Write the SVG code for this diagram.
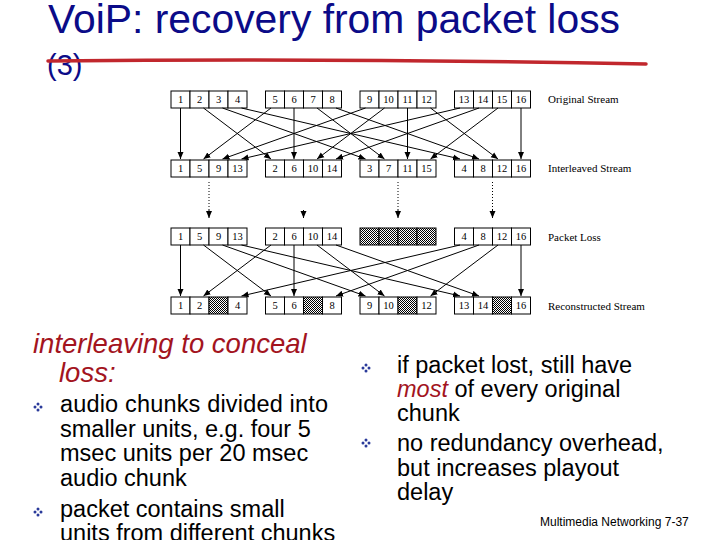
<svg xmlns="http://www.w3.org/2000/svg" width="720" height="540" viewBox="0 0 720 540">
<style>
.cell{fill:#fff;stroke:#000;stroke-width:1}
.lost{fill:url(#chk);stroke:#000;stroke-width:1}
.num{font-family:"Liberation Serif","Times New Roman",serif;font-size:10.5px;text-anchor:middle;fill:#000}
.lbl{font-family:"Liberation Serif","Times New Roman",serif;font-size:11px;fill:#000}
.ln{stroke:#000;stroke-width:1;fill:none;marker-end:url(#ah)}
.dot{stroke:#000;stroke-width:1;fill:none;stroke-dasharray:1 2}
.body{font-family:"Liberation Sans",Arial,sans-serif;font-size:23.5px;fill:#000}
.red{fill:#a3141e;font-style:italic}
</style>
<defs>
<pattern id="chk" width="2" height="2" patternUnits="userSpaceOnUse">
<rect width="2" height="2" fill="#fff"/>
<rect x="0" y="0" width="1" height="1" fill="#000"/>
<rect x="1" y="1" width="1" height="1" fill="#000"/>
</pattern>
<marker id="ah" markerUnits="userSpaceOnUse" markerWidth="8" markerHeight="8" refX="7" refY="3.5" orient="auto">
<path d="M0,0.5 L7,3.5 L0,6.5 z" fill="#000"/>
</marker>
<g id="bul">
<circle cx="0" cy="-3" r="1.5" fill="#2a3a9a"/>
<circle cx="0" cy="3" r="1.5" fill="#2a3a9a"/>
<circle cx="-3" cy="0" r="1.5" fill="#2a3a9a"/>
<circle cx="3" cy="0" r="1.5" fill="#2a3a9a"/>
</g>
</defs>
<rect width="720" height="540" fill="#fff"/>

<g id="title">
<text x="48" y="33" font-family="'Liberation Sans',Arial,sans-serif" font-size="40" fill="#0b0b88" textLength="572" lengthAdjust="spacingAndGlyphs">VoiP: recovery from packet loss</text>
<text x="47" y="75" font-family="'Liberation Sans',Arial,sans-serif" font-size="29" fill="#0b0b88">(3)</text>
<path d="M48,61 Q340,58 646,64" stroke="#c1272d" stroke-width="3.5" fill="none" stroke-linecap="round"/>
</g>

<!-- Row 1: Original Stream -->
<g id="orig1"><rect class="cell" x="171" y="91" width="19" height="17"/><rect class="cell" x="190" y="91" width="19" height="17"/><rect class="cell" x="209" y="91" width="19" height="17"/><rect class="cell" x="228" y="91" width="19" height="17"/>
<text class="num" x="180.5" y="103">1</text><text class="num" x="199.5" y="103">2</text><text class="num" x="218.5" y="103">3</text><text class="num" x="237.5" y="103">4</text></g>
<g id="orig2"><rect class="cell" x="265.5" y="91" width="19" height="17"/><rect class="cell" x="284.5" y="91" width="19" height="17"/><rect class="cell" x="303.5" y="91" width="19" height="17"/><rect class="cell" x="322.5" y="91" width="19" height="17"/>
<text class="num" x="275" y="103">5</text><text class="num" x="294" y="103">6</text><text class="num" x="313" y="103">7</text><text class="num" x="332" y="103">8</text></g>
<g id="orig3"><rect class="cell" x="360" y="91" width="19" height="17"/><rect class="cell" x="379" y="91" width="19" height="17"/><rect class="cell" x="398" y="91" width="19" height="17"/><rect class="cell" x="417" y="91" width="19" height="17"/>
<text class="num" x="369.5" y="103">9</text><text class="num" x="388.5" y="103">10</text><text class="num" x="407.5" y="103">11</text><text class="num" x="426.5" y="103">12</text></g>
<g id="orig4"><rect class="cell" x="454.5" y="91" width="19" height="17"/><rect class="cell" x="473.5" y="91" width="19" height="17"/><rect class="cell" x="492.5" y="91" width="19" height="17"/><rect class="cell" x="511.5" y="91" width="19" height="17"/>
<text class="num" x="464" y="103">13</text><text class="num" x="483" y="103">14</text><text class="num" x="502" y="103">15</text><text class="num" x="521" y="103">16</text></g>
<text class="lbl" x="548" y="103">Original Stream</text>

<!-- Row 2: Interleaved Stream -->
<g id="inter1"><rect class="cell" x="171" y="160" width="19" height="17"/><rect class="cell" x="190" y="160" width="19" height="17"/><rect class="cell" x="209" y="160" width="19" height="17"/><rect class="cell" x="228" y="160" width="19" height="17"/>
<text class="num" x="180.5" y="172">1</text><text class="num" x="199.5" y="172">5</text><text class="num" x="218.5" y="172">9</text><text class="num" x="237.5" y="172">13</text></g>
<g id="inter2"><rect class="cell" x="265.5" y="160" width="19" height="17"/><rect class="cell" x="284.5" y="160" width="19" height="17"/><rect class="cell" x="303.5" y="160" width="19" height="17"/><rect class="cell" x="322.5" y="160" width="19" height="17"/>
<text class="num" x="275" y="172">2</text><text class="num" x="294" y="172">6</text><text class="num" x="313" y="172">10</text><text class="num" x="332" y="172">14</text></g>
<g id="inter3"><rect class="cell" x="360" y="160" width="19" height="17"/><rect class="cell" x="379" y="160" width="19" height="17"/><rect class="cell" x="398" y="160" width="19" height="17"/><rect class="cell" x="417" y="160" width="19" height="17"/>
<text class="num" x="369.5" y="172">3</text><text class="num" x="388.5" y="172">7</text><text class="num" x="407.5" y="172">11</text><text class="num" x="426.5" y="172">15</text></g>
<g id="inter4"><rect class="cell" x="454.5" y="160" width="19" height="17"/><rect class="cell" x="473.5" y="160" width="19" height="17"/><rect class="cell" x="492.5" y="160" width="19" height="17"/><rect class="cell" x="511.5" y="160" width="19" height="17"/>
<text class="num" x="464" y="172">4</text><text class="num" x="483" y="172">8</text><text class="num" x="502" y="172">12</text><text class="num" x="521" y="172">16</text></g>
<text class="lbl" x="548" y="172">Interleaved Stream</text>

<!-- Row 3: Packet Loss -->
<g id="loss1"><rect class="cell" x="171" y="228" width="19" height="17"/><rect class="cell" x="190" y="228" width="19" height="17"/><rect class="cell" x="209" y="228" width="19" height="17"/><rect class="cell" x="228" y="228" width="19" height="17"/>
<text class="num" x="180.5" y="240">1</text><text class="num" x="199.5" y="240">5</text><text class="num" x="218.5" y="240">9</text><text class="num" x="237.5" y="240">13</text></g>
<g id="loss2"><rect class="cell" x="265.5" y="228" width="19" height="17"/><rect class="cell" x="284.5" y="228" width="19" height="17"/><rect class="cell" x="303.5" y="228" width="19" height="17"/><rect class="cell" x="322.5" y="228" width="19" height="17"/>
<text class="num" x="275" y="240">2</text><text class="num" x="294" y="240">6</text><text class="num" x="313" y="240">10</text><text class="num" x="332" y="240">14</text></g>
<g id="loss3"><rect class="lost" x="360" y="228" width="19" height="17"/><rect class="lost" x="379" y="228" width="19" height="17"/><rect class="lost" x="398" y="228" width="19" height="17"/><rect class="lost" x="417" y="228" width="19" height="17"/></g>
<g id="loss4"><rect class="cell" x="454.5" y="228" width="19" height="17"/><rect class="cell" x="473.5" y="228" width="19" height="17"/><rect class="cell" x="492.5" y="228" width="19" height="17"/><rect class="cell" x="511.5" y="228" width="19" height="17"/>
<text class="num" x="464" y="240">4</text><text class="num" x="483" y="240">8</text><text class="num" x="502" y="240">12</text><text class="num" x="521" y="240">16</text></g>
<text class="lbl" x="548" y="241">Packet Loss</text>

<!-- Row 4: Reconstructed Stream -->
<g id="rec1"><rect class="cell" x="171" y="297" width="19" height="17"/><rect class="cell" x="190" y="297" width="19" height="17"/><rect class="lost" x="209" y="297" width="19" height="17"/><rect class="cell" x="228" y="297" width="19" height="17"/>
<text class="num" x="180.5" y="309">1</text><text class="num" x="199.5" y="309">2</text><text class="num" x="237.5" y="309">4</text></g>
<g id="rec2"><rect class="cell" x="265.5" y="297" width="19" height="17"/><rect class="cell" x="284.5" y="297" width="19" height="17"/><rect class="lost" x="303.5" y="297" width="19" height="17"/><rect class="cell" x="322.5" y="297" width="19" height="17"/>
<text class="num" x="275" y="309">5</text><text class="num" x="294" y="309">6</text><text class="num" x="332" y="309">8</text></g>
<g id="rec3"><rect class="cell" x="360" y="297" width="19" height="17"/><rect class="cell" x="379" y="297" width="19" height="17"/><rect class="lost" x="398" y="297" width="19" height="17"/><rect class="cell" x="417" y="297" width="19" height="17"/>
<text class="num" x="369.5" y="309">9</text><text class="num" x="388.5" y="309">10</text><text class="num" x="426.5" y="309">12</text></g>
<g id="rec4"><rect class="cell" x="454.5" y="297" width="19" height="17"/><rect class="cell" x="473.5" y="297" width="19" height="17"/><rect class="lost" x="492.5" y="297" width="19" height="17"/><rect class="cell" x="511.5" y="297" width="19" height="17"/>
<text class="num" x="464" y="309">13</text><text class="num" x="483" y="309">14</text><text class="num" x="521" y="309">16</text></g>
<text class="lbl" x="548" y="310">Reconstructed Stream</text>

<g id="connectors">
<!-- original -> interleaved -->
<line class="ln" x1="180.5" y1="108" x2="180.5" y2="159"/>
<line class="ln" x1="203.5" y1="108" x2="271" y2="159"/>
<line class="ln" x1="222.5" y1="108" x2="365.5" y2="159"/>
<line class="ln" x1="241.5" y1="108" x2="460" y2="159"/>
<line class="ln" x1="271" y1="108" x2="203.5" y2="159"/>
<line class="ln" x1="294" y1="108" x2="294" y2="159"/>
<line class="ln" x1="317" y1="108" x2="384.5" y2="159"/>
<line class="ln" x1="336" y1="108" x2="479" y2="159"/>
<line class="ln" x1="365.5" y1="108" x2="222.5" y2="159"/>
<line class="ln" x1="384.5" y1="108" x2="317" y2="159"/>
<line class="ln" x1="407.5" y1="108" x2="407.5" y2="159"/>
<line class="ln" x1="430.5" y1="108" x2="498" y2="159"/>
<line class="ln" x1="460" y1="108" x2="241.5" y2="159"/>
<line class="ln" x1="479" y1="108" x2="336" y2="159"/>
<line class="ln" x1="498" y1="108" x2="430.5" y2="159"/>
<line class="ln" x1="521" y1="108" x2="521" y2="159"/>
<!-- interleaved -> packet loss (transmission) -->
<line class="dot" x1="209" y1="182" x2="209" y2="211"/>
<line class="ln" x1="209" y1="210" x2="209" y2="218"/>
<line class="ln" x1="303.5" y1="210" x2="303.5" y2="218"/>
<line class="dot" x1="398" y1="182" x2="398" y2="211"/>
<line class="ln" x1="398" y1="210" x2="398" y2="218"/>
<line class="dot" x1="492.5" y1="182" x2="492.5" y2="211"/>
<line class="ln" x1="492.5" y1="210" x2="492.5" y2="218"/>
<!-- packet loss -> reconstructed -->
<line class="ln" x1="180.5" y1="245" x2="180.5" y2="296"/>
<line class="ln" x1="271" y1="245" x2="203.5" y2="296"/>
<line class="ln" x1="460" y1="245" x2="241.5" y2="296"/>
<line class="ln" x1="203.5" y1="245" x2="271" y2="296"/>
<line class="ln" x1="294" y1="245" x2="294" y2="296"/>
<line class="ln" x1="479" y1="245" x2="336" y2="296"/>
<line class="ln" x1="222.5" y1="245" x2="365.5" y2="296"/>
<line class="ln" x1="317" y1="245" x2="384.5" y2="296"/>
<line class="ln" x1="498" y1="245" x2="430.5" y2="296"/>
<line class="ln" x1="241.5" y1="245" x2="460" y2="296"/>
<line class="ln" x1="336" y1="245" x2="479" y2="296"/>
<line class="ln" x1="521" y1="245" x2="521" y2="296"/>
</g>

<g id="left-text" class="body">
<text x="33" y="353" font-size="27.5" class="red">interleaving to conceal</text>
<text x="59" y="382" font-size="27.5" class="red">loss:</text>
<use href="#bul" x="38" y="407"/>
<text x="60" y="412" textLength="268" lengthAdjust="spacing">audio chunks divided into</text>
<text x="60" y="437">smaller units, e.g. four 5</text>
<text x="60" y="461">msec units per 20 msec</text>
<text x="60" y="486">audio chunk</text>
<use href="#bul" x="38" y="512"/>
<text x="60" y="517">packet contains small</text>
<text x="60" y="541">units from different chunks</text>
</g>

<g id="right-text" class="body">
<use href="#bul" x="366" y="368"/>
<text x="397" y="373">if packet lost, still have</text>
<text x="397" y="397"><tspan class="red">most</tspan> of every original</text>
<text x="397" y="421">chunk</text>
<use href="#bul" x="366" y="443"/>
<text x="397" y="451">no redundancy overhead,</text>
<text x="397" y="476">but increases playout</text>
<text x="397" y="500">delay</text>
</g>

<text x="540" y="526" font-family="'Liberation Sans',Arial,sans-serif" font-size="12" fill="#000">Multimedia Networking 7-37</text>
</svg>
